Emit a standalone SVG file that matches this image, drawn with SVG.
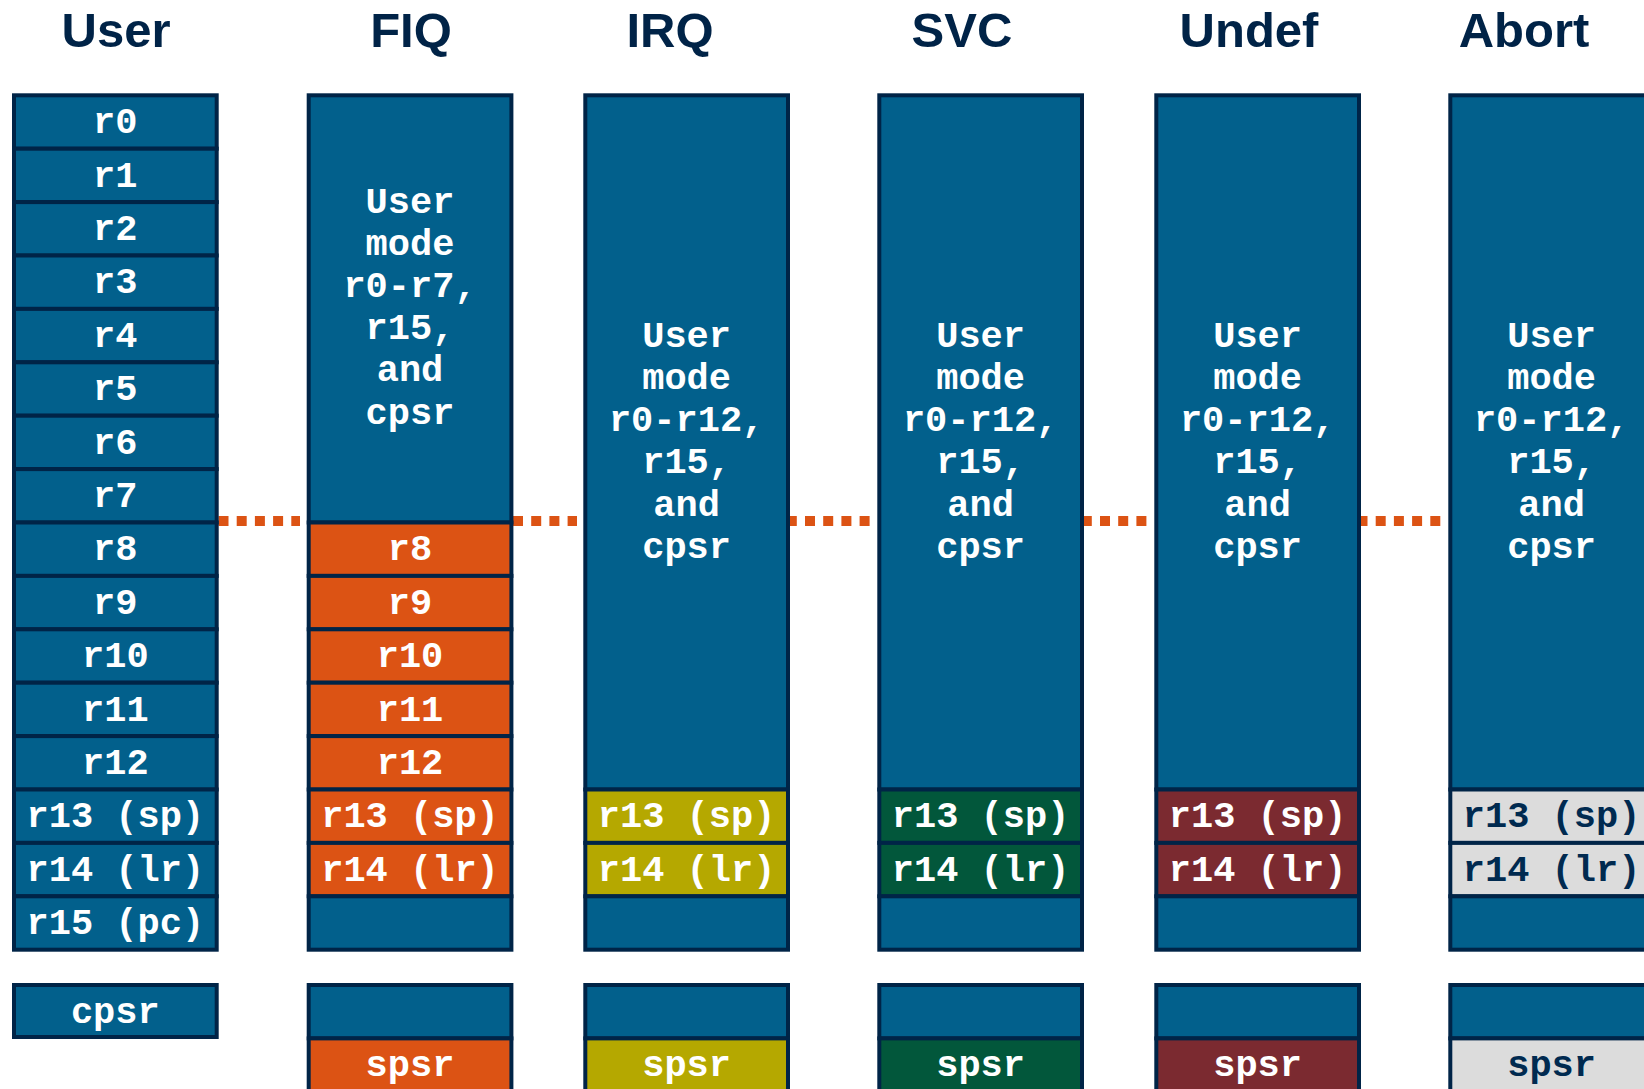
<svg xmlns="http://www.w3.org/2000/svg" width="1644" height="1089" viewBox="0 0 1644 1089">
<style>
.c{stroke:#002447;stroke-width:4}
.b{fill:#02608C}
.o{fill:#DC5314}
.y{fill:#B5A800}
.g{fill:#02573B}
.m{fill:#7B2A30}
.s{fill:#DCDCDC}
.t{font-family:"Liberation Mono","Courier New",monospace;font-weight:bold;font-size:37px;fill:#FFFFFF;text-anchor:middle}
.tn{fill:#002A50}
.h{font-family:"Liberation Sans",Arial,sans-serif;font-weight:bold;font-size:49px;fill:#002347;text-anchor:middle}
.d{stroke:#DC5314;stroke-width:10;stroke-dasharray:10 8.2;fill:none}
</style>
<rect width="1644" height="1089" fill="#FFFFFF"/>
<g id="titles">
<text class="h" x="116" y="46.5">User</text>
<text class="h" x="411" y="46.5">FIQ</text>
<text class="h" x="670" y="46.5">IRQ</text>
<text class="h" x="962" y="46.5">SVC</text>
<text class="h" x="1249" y="46.5">Undef</text>
<text class="h" x="1524" y="46.5">Abort</text>
</g>
<g id="connectors">
<line class="d" x1="218.5" y1="521" x2="300" y2="521"/>
<line class="d" x1="513" y1="521" x2="577" y2="521"/>
<line class="d" x1="786.8" y1="521" x2="871" y2="521"/>
<line class="d" x1="1081.8" y1="521" x2="1147.5" y2="521"/>
<line class="d" x1="1357.5" y1="521" x2="1441" y2="521"/>
</g>
<g id="user">
<rect class="c b" x="14" y="95.3" width="202.7" height="53.4"/>
<rect class="c b" x="14" y="148.7" width="202.7" height="53.4"/>
<rect class="c b" x="14" y="202.1" width="202.7" height="53.4"/>
<rect class="c b" x="14" y="255.5" width="202.7" height="53.4"/>
<rect class="c b" x="14" y="308.9" width="202.7" height="53.4"/>
<rect class="c b" x="14" y="362.3" width="202.7" height="53.4"/>
<rect class="c b" x="14" y="415.7" width="202.7" height="53.4"/>
<rect class="c b" x="14" y="469.1" width="202.7" height="53.4"/>
<rect class="c b" x="14" y="522.5" width="202.7" height="53.4"/>
<rect class="c b" x="14" y="575.9" width="202.7" height="53.4"/>
<rect class="c b" x="14" y="629.3" width="202.7" height="53.4"/>
<rect class="c b" x="14" y="682.7" width="202.7" height="53.4"/>
<rect class="c b" x="14" y="736.1" width="202.7" height="53.4"/>
<rect class="c b" x="14" y="789.5" width="202.7" height="53.4"/>
<rect class="c b" x="14" y="842.9" width="202.7" height="53.4"/>
<rect class="c b" x="14" y="896.3" width="202.7" height="53.4"/>
<text class="t" x="115.3" y="133.2">r0</text>
<text class="t" x="115.3" y="186.6">r1</text>
<text class="t" x="115.3" y="240">r2</text>
<text class="t" x="115.3" y="293.4">r3</text>
<text class="t" x="115.3" y="346.8">r4</text>
<text class="t" x="115.3" y="400.2">r5</text>
<text class="t" x="115.3" y="453.6">r6</text>
<text class="t" x="115.3" y="507">r7</text>
<text class="t" x="115.3" y="560.4">r8</text>
<text class="t" x="115.3" y="613.8">r9</text>
<text class="t" x="115.3" y="667.2">r10</text>
<text class="t" x="115.3" y="720.6">r11</text>
<text class="t" x="115.3" y="774">r12</text>
<text class="t" x="115.3" y="827.4">r13 (sp)</text>
<text class="t" x="115.3" y="880.8">r14 (lr)</text>
<text class="t" x="115.3" y="934.2">r15 (pc)</text>
<rect class="c b" x="14" y="985" width="202.7" height="52"/>
<text class="t" x="115.3" y="1023">cpsr</text>
</g>
<g id="fiq">
<rect class="c b" x="308.7" y="95.3" width="202.7" height="427.2"/>
<rect class="c o" x="308.7" y="522.5" width="202.7" height="53.4"/>
<rect class="c o" x="308.7" y="575.9" width="202.7" height="53.4"/>
<rect class="c o" x="308.7" y="629.3" width="202.7" height="53.4"/>
<rect class="c o" x="308.7" y="682.7" width="202.7" height="53.4"/>
<rect class="c o" x="308.7" y="736.1" width="202.7" height="53.4"/>
<rect class="c o" x="308.7" y="789.5" width="202.7" height="53.4"/>
<rect class="c o" x="308.7" y="842.9" width="202.7" height="53.4"/>
<rect class="c b" x="308.7" y="896.3" width="202.7" height="53.4"/>
<text class="t" x="410" y="212.5">User</text>
<text class="t" x="410" y="254.7">mode</text>
<text class="t" x="410" y="296.9">r0-r7,</text>
<text class="t" x="410" y="339.1">r15,</text>
<text class="t" x="410" y="381.3">and</text>
<text class="t" x="410" y="423.5">cpsr</text>
<text class="t" x="410" y="560.4">r8</text>
<text class="t" x="410" y="613.8">r9</text>
<text class="t" x="410" y="667.2">r10</text>
<text class="t" x="410" y="720.6">r11</text>
<text class="t" x="410" y="774">r12</text>
<text class="t" x="410" y="827.4">r13 (sp)</text>
<text class="t" x="410" y="880.8">r14 (lr)</text>
<rect class="c b" x="308.7" y="985" width="202.7" height="53.4"/>
<rect class="c o" x="308.7" y="1038.4" width="202.7" height="53.4"/>
<text class="t" x="410" y="1076">spsr</text>
</g>
<g id="irq">
<rect class="c b" x="585.3" y="95.3" width="202.7" height="694.2"/>
<rect class="c y" x="585.3" y="789.5" width="202.7" height="53.4"/>
<rect class="c y" x="585.3" y="842.9" width="202.7" height="53.4"/>
<rect class="c b" x="585.3" y="896.3" width="202.7" height="53.4"/>
<text class="t" x="686.6" y="346.7">User</text>
<text class="t" x="686.6" y="388.9">mode</text>
<text class="t" x="686.6" y="431.1">r0-r12,</text>
<text class="t" x="686.6" y="473.3">r15,</text>
<text class="t" x="686.6" y="515.5">and</text>
<text class="t" x="686.6" y="557.7">cpsr</text>
<text class="t" x="686.6" y="827.4">r13 (sp)</text>
<text class="t" x="686.6" y="880.8">r14 (lr)</text>
<rect class="c b" x="585.3" y="985" width="202.7" height="53.4"/>
<rect class="c y" x="585.3" y="1038.4" width="202.7" height="53.4"/>
<text class="t" x="686.6" y="1076">spsr</text>
</g>
<g id="svc">
<rect class="c b" x="879.3" y="95.3" width="202.7" height="694.2"/>
<rect class="c g" x="879.3" y="789.5" width="202.7" height="53.4"/>
<rect class="c g" x="879.3" y="842.9" width="202.7" height="53.4"/>
<rect class="c b" x="879.3" y="896.3" width="202.7" height="53.4"/>
<text class="t" x="980.6" y="346.7">User</text>
<text class="t" x="980.6" y="388.9">mode</text>
<text class="t" x="980.6" y="431.1">r0-r12,</text>
<text class="t" x="980.6" y="473.3">r15,</text>
<text class="t" x="980.6" y="515.5">and</text>
<text class="t" x="980.6" y="557.7">cpsr</text>
<text class="t" x="980.6" y="827.4">r13 (sp)</text>
<text class="t" x="980.6" y="880.8">r14 (lr)</text>
<rect class="c b" x="879.3" y="985" width="202.7" height="53.4"/>
<rect class="c g" x="879.3" y="1038.4" width="202.7" height="53.4"/>
<text class="t" x="980.6" y="1076">spsr</text>
</g>
<g id="undef">
<rect class="c b" x="1156.3" y="95.3" width="202.7" height="694.2"/>
<rect class="c m" x="1156.3" y="789.5" width="202.7" height="53.4"/>
<rect class="c m" x="1156.3" y="842.9" width="202.7" height="53.4"/>
<rect class="c b" x="1156.3" y="896.3" width="202.7" height="53.4"/>
<text class="t" x="1257.6" y="346.7">User</text>
<text class="t" x="1257.6" y="388.9">mode</text>
<text class="t" x="1257.6" y="431.1">r0-r12,</text>
<text class="t" x="1257.6" y="473.3">r15,</text>
<text class="t" x="1257.6" y="515.5">and</text>
<text class="t" x="1257.6" y="557.7">cpsr</text>
<text class="t" x="1257.6" y="827.4">r13 (sp)</text>
<text class="t" x="1257.6" y="880.8">r14 (lr)</text>
<rect class="c b" x="1156.3" y="985" width="202.7" height="53.4"/>
<rect class="c m" x="1156.3" y="1038.4" width="202.7" height="53.4"/>
<text class="t" x="1257.6" y="1076">spsr</text>
</g>
<g id="abort">
<rect class="c b" x="1450.3" y="95.3" width="202.7" height="694.2"/>
<rect class="c s" x="1450.3" y="789.5" width="202.7" height="53.4"/>
<rect class="c s" x="1450.3" y="842.9" width="202.7" height="53.4"/>
<rect class="c b" x="1450.3" y="896.3" width="202.7" height="53.4"/>
<text class="t" x="1551.6" y="346.7">User</text>
<text class="t" x="1551.6" y="388.9">mode</text>
<text class="t" x="1551.6" y="431.1">r0-r12,</text>
<text class="t" x="1551.6" y="473.3">r15,</text>
<text class="t" x="1551.6" y="515.5">and</text>
<text class="t" x="1551.6" y="557.7">cpsr</text>
<text class="t tn" x="1551.6" y="827.4">r13 (sp)</text>
<text class="t tn" x="1551.6" y="880.8">r14 (lr)</text>
<rect class="c b" x="1450.3" y="985" width="202.7" height="53.4"/>
<rect class="c s" x="1450.3" y="1038.4" width="202.7" height="53.4"/>
<text class="t tn" x="1551.6" y="1076">spsr</text>
</g>
</svg>
